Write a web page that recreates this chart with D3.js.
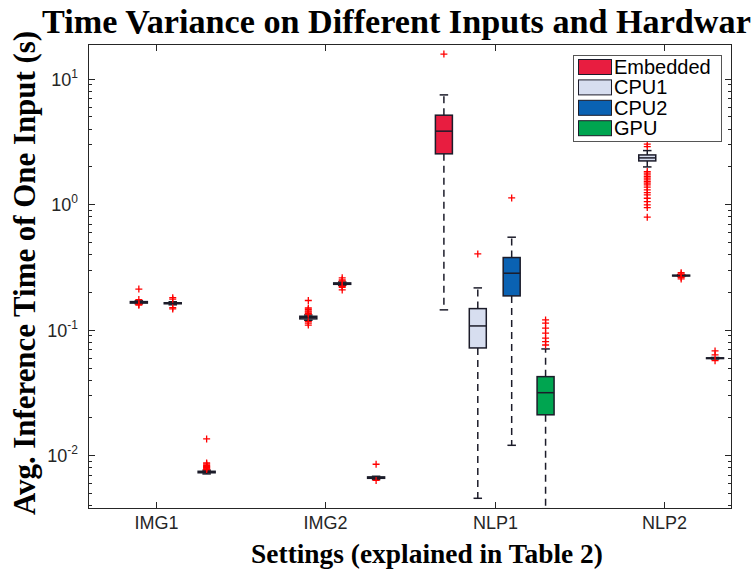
<!DOCTYPE html>
<html>
<head>
<meta charset="utf-8">
<script src="https://cdn.jsdelivr.net/npm/d3@7/dist/d3.min.js"></script>
<style>
  body { margin: 0; background: #fff; }
</style>
</head>
<body>
<svg id="chart" width="751" height="569"></svg>
<script>
// categories
const settings = ["IMG1", "IMG2", "NLP1", "NLP2"];
const hardware = ["Embedded", "CPU1", "CPU2", "GPU"];

// box stats per setting: [lower whisker, q1, median, q3, upper whisker], null = no run
const embeddedStats = [null, null, [0.144, 2.52, 3.82, 5.12, 7.43], null];
const cpu1Stats = [
  [0.161, 0.163, 0.1656, 0.1675, 0.170],
  [0.119, 0.122, 0.1253, 0.128, 0.131],
  [0.00454, 0.0716, 0.1072, 0.1473, 0.2154],
  [1.982, 2.213, 2.339, 2.47, 2.674]
];
const cpu2Stats = [
  [0.158, 0.161, 0.1626, 0.164, 0.167],
  [0.226, 0.230, 0.233, 0.236, 0.240],
  [0.0120, 0.186, 0.282, 0.376, 0.546],
  [0.266, 0.268, 0.270, 0.272, 0.274]
];
const gpuStats = [
  [0.0071, 0.00725, 0.00736, 0.00745, 0.0076],
  [0.0064, 0.00655, 0.00664, 0.00672, 0.0068],
  [0.00375, 0.0210, 0.0315, 0.0423, 0.0703],
  [0.0585, 0.0589, 0.0593, 0.0597, 0.0601]
];

// outliers per setting
const embeddedOutliers = [[], [], [15.7], []];
const cpu1Outliers = [
  [0.211, 0.157, 0.159, 0.174],
  [0.171, 0.149, 0.145, 0.141, 0.138, 0.135, 0.133, 0.116, 0.113, 0.109],
  [0.402],
  [3.006, 2.877, 1.819, 1.766, 1.712, 1.660, 1.611, 1.562, 1.514, 1.470, 1.425,
   1.366, 1.300, 1.237, 1.186, 1.116, 1.049, 0.987, 0.9395, 0.788]
];
const cpu2Outliers = [
  [0.180, 0.175, 0.150, 0.1465],
  [0.259, 0.250, 0.245, 0.222, 0.218, 0.2075],
  [1.122],
  [0.285, 0.278, 0.262, 0.254]
];
const gpuOutliers = [
  [0.01349, 0.00867, 0.0085, 0.0083, 0.0082, 0.0081, 0.0080, 0.0079, 0.0078, 0.0077],
  [0.00848, 0.0063],
  [0.1197, 0.1127, 0.1028, 0.0938, 0.0856, 0.0804, 0.0756],
  [0.0678, 0.0630, 0.0567]
];

const yTickValues = [0.01, 0.1, 1, 10];
const yTickExponents = ["-2", "-1", "0", "1"];

const fills = ["#e81d40", "#d7def0", "#0a62b3", "#00a550"];
const edge = "#1c1c2a";
const axisColor = "#262626";

const series = [
  { stats: embeddedStats, outliers: embeddedOutliers },
  { stats: cpu1Stats, outliers: cpu1Outliers },
  { stats: cpu2Stats, outliers: cpu2Outliers },
  { stats: gpuStats, outliers: gpuOutliers }
];

const L = 88, R = 732, T = 44, B = 509;
const svg = d3.select("#chart");

// slot position: each setting has 4 boxes and one empty slot
const x = d3.scaleLinear().domain([-0.5, 18.5]).range([L, R]);
const y = d3.scaleLog().domain([0.00373, 18.9]).range([B, T]);
const slot = (g, k) => g * 5 + k;
const boxW = 17, capW = 8.5;

const plot = svg.append("g");
plot.append("defs").append("clipPath").attr("id", "clip")
  .append("rect").attr("x", L).attr("y", T).attr("width", R - L).attr("height", B - T);
const inner = plot.append("g").attr("clip-path", "url(#clip)");

// boxes
series.forEach((s, k) => {
  s.stats.forEach((st, g) => {
    if (!st) return;
    const cx = x(slot(g, k));
    const [lw, q1, med, q3, uw] = st;
    const b = inner.append("g");
    // whiskers
    b.append("line").attr("x1", cx).attr("x2", cx).attr("y1", y(q3)).attr("y2", y(uw))
      .attr("stroke", edge).attr("stroke-width", 1.5).attr("stroke-dasharray", "7,5");
    b.append("line").attr("x1", cx).attr("x2", cx).attr("y1", y(q1)).attr("y2", y(lw))
      .attr("stroke", edge).attr("stroke-width", 1.5).attr("stroke-dasharray", "7,5");
    // caps
    [lw, uw].forEach(v => {
      b.append("line").attr("x1", cx - capW / 2).attr("x2", cx + capW / 2)
        .attr("y1", y(v)).attr("y2", y(v))
        .attr("stroke", edge).attr("stroke-width", 1.5);
    });
    // box
    b.append("rect")
      .attr("x", cx - boxW / 2).attr("width", boxW)
      .attr("y", y(q3)).attr("height", Math.max(y(q1) - y(q3), 0.5))
      .attr("fill", fills[k]).attr("stroke", edge).attr("stroke-width", 1.5);
    // median
    b.append("line").attr("x1", cx - boxW / 2).attr("x2", cx + boxW / 2)
      .attr("y1", y(med)).attr("y2", y(med))
      .attr("stroke", edge).attr("stroke-width", 1.5);
  });
});

// outliers as red plus markers
series.forEach((s, k) => {
  s.outliers.forEach((arr, g) => {
    const cx = x(slot(g, k));
    arr.forEach(v => {
      const py = y(v);
      inner.append("path")
        .attr("d", `M${cx - 3.5},${py}H${cx + 3.5}M${cx},${py - 3.5}V${py + 3.5}`)
        .attr("stroke", "#ff0000").attr("stroke-width", 1.3).attr("fill", "none");
    });
  });
});

// axes box
const ax = svg.append("g").attr("stroke", axisColor).attr("stroke-width", 1).attr("fill", "none");
ax.append("rect").attr("x", L + 0.5).attr("y", T + 0.5)
  .attr("width", R - L - 1).attr("height", B - T - 1);

// x ticks (top and bottom, pointing in)
settings.forEach((name, g) => {
  const tx = Math.round(x(slot(g, 1.5))) + 0.5;
  ax.append("line").attr("x1", tx).attr("x2", tx).attr("y1", B).attr("y2", B - 7);
  ax.append("line").attr("x1", tx).attr("x2", tx).attr("y1", T).attr("y2", T + 7);
  svg.append("text").attr("x", tx).attr("y", 529)
    .attr("text-anchor", "middle")
    .style("font-family", "'Liberation Sans', Arial, sans-serif")
    .style("font-size", "18px").attr("fill", axisColor)
    .text(name);
});

// y ticks, major and minor
const [d0, d1] = y.domain();
for (let e = Math.floor(Math.log10(d0)); e <= Math.ceil(Math.log10(d1)); e++) {
  for (let m = 1; m <= 9; m++) {
    const v = m * Math.pow(10, e);
    if (v < d0 || v > d1) continue;
    const ty = Math.round(y(v)) + 0.5;
    const len = m === 1 ? 7 : 4;
    ax.append("line").attr("x1", L).attr("x2", L + len).attr("y1", ty).attr("y2", ty);
    ax.append("line").attr("x1", R).attr("x2", R - len).attr("y1", ty).attr("y2", ty);
  }
}
yTickValues.forEach((v, i) => {
  const t = svg.append("text").attr("x", 78).attr("y", y(v) + 7)
    .attr("text-anchor", "end")
    .style("font-family", "'Liberation Sans', Arial, sans-serif")
    .style("font-size", "18px").attr("fill", axisColor);
  t.append("tspan").text("10");
  t.append("tspan").attr("dy", -8).style("font-size", "12px").text(yTickExponents[i]);
});

// title and axis labels, sized to the widths seen in the picture
const serif = "'Liberation Serif', 'Times New Roman', serif";
function fit(sel, width) {
  const len = sel.node().getComputedTextLength();
  sel.style("font-size", (30 * width / len).toFixed(2) + "px");
}
const titleText = "Time Variance on Different Inputs and Hardware";
// the title runs past the right edge in the original; fit the visible part
const probe = svg.append("text").style("font-family", serif).style("font-size", "30px")
  .style("font-weight", "bold").text(titleText.slice(0, -1));
const probeLen = probe.node().getComputedTextLength();
probe.remove();
svg.append("text").attr("x", 42).attr("y", 33)
  .style("font-family", serif).style("font-size", (30 * 709 / probeLen).toFixed(2) + "px")
  .style("font-weight", "bold")
  .text(titleText);

const xLabel = svg.append("text").attr("x", 427).attr("y", 563).attr("text-anchor", "middle")
  .style("font-family", serif).style("font-size", "30px").style("font-weight", "bold")
  .text("Settings (explained in Table 2)");
fit(xLabel, 352);
const yLabel = svg.append("text").attr("transform", "translate(35,273) rotate(-90)")
  .attr("text-anchor", "middle")
  .style("font-family", serif).style("font-size", "30px").style("font-weight", "bold")
  .text("Avg. Inference Time of One Input (s)");
fit(yLabel, 484);

// legend
const legend = svg.append("g");
legend.append("rect").attr("x", 573.5).attr("y", 55.5).attr("width", 148).attr("height", 86)
  .attr("fill", "#fff").attr("stroke", "#555").attr("stroke-width", 1);
hardware.forEach((name, k) => {
  const cy = 67 + k * 20.4;
  legend.append("rect").attr("x", 578.5).attr("y", cy - 7.5).attr("width", 33).attr("height", 15)
    .attr("fill", fills[k]).attr("stroke", edge).attr("stroke-width", 1);
  legend.append("text").attr("x", 614).attr("y", cy + 7)
    .style("font-family", "'Liberation Sans', Arial, sans-serif")
    .style("font-size", "20px").attr("fill", "#000")
    .text(name);
});
</script>
</body>
</html>
